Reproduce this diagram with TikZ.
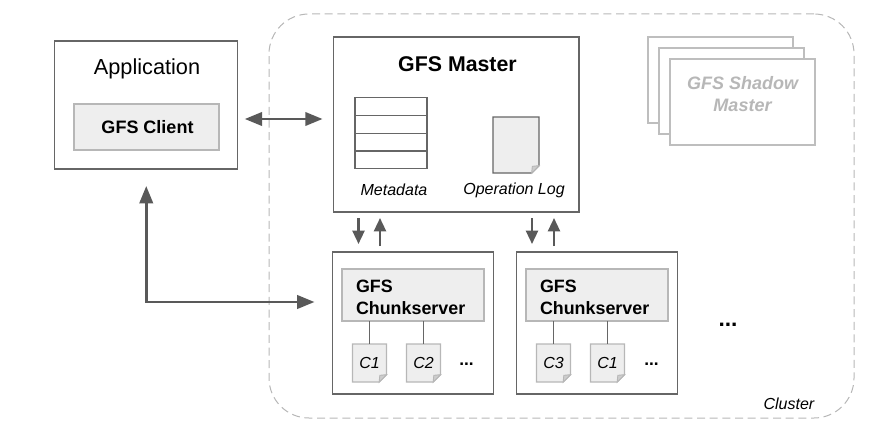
\documentclass[tikz,border=0pt]{standalone}
\usepackage{fontspec}
\setmainfont{Liberation Sans}
\usetikzlibrary{arrows.meta,positioning,backgrounds}
\definecolor{boxline}{HTML}{666666}
\definecolor{softline}{HTML}{B7B7B7}
\definecolor{softfill}{HTML}{EEEEEE}
\definecolor{flowline}{HTML}{595959}
\tikzset{
	outerbox/.style={rectangle, draw=boxline, line width=0.9pt, outer sep=0pt, inner sep=0pt},
	innerbox/.style={rectangle, draw=softline, fill=softfill, line width=0.8pt, outer sep=0pt, inner sep=0pt},
	shadowbox/.style={rectangle, draw=softline!90!white, fill=white, line width=0.9pt, outer sep=0pt, inner sep=0pt,
		minimum width=108.75pt, minimum height=64.5pt},
	serverbox/.style={outerbox, minimum width=120.75pt, minimum height=106.5pt},
	chunkbox/.style={innerbox, minimum width=106.5pt, minimum height=39pt, align=left, text width=85.5pt,
		font=\bfseries\fontsize{13.4}{17}\selectfont},
	metarow/.style={rectangle, draw=boxline, line width=0.9pt, outer sep=0pt, minimum width=54pt, minimum height=13.3pt, inner sep=0pt},
	sheetspot/.style={rectangle, inner sep=0pt, outer sep=0pt, font=\itshape\fontsize{12}{14}\selectfont},
	flow/.style={draw=flowline, line width=2.1pt, {Triangle[length=13pt,width=10pt]}-{Triangle[length=13pt,width=10pt]}},
	updown/.style={draw=flowline, line width=1.7pt, -{Triangle[length=10pt,width=9pt]}},
	stem/.style={draw=boxline, line width=0.8pt},
	caption/.style={font=\itshape\fontsize{12}{14}\selectfont}
}
% sheet with a folded corner, behind its text
\newcommand{\foldsheet}[6]{%
	\node[sheetspot, minimum width=#4*0.75pt, minimum height=#5*0.75pt] (#2) at (#3) {#6};
	\begin{scope}[on background layer]
		\draw[draw=#1, fill=softfill, line width=0.9pt] (#2.north west) -- (#2.north east)
			-- ([yshift=5.5pt]#2.south east) -- ([xshift=-5.5pt]#2.south east) -- (#2.south west) -- cycle;
		\draw[draw=softline, fill=softline!70!white, line width=0.7pt] ([yshift=5.5pt]#2.south east) -- ([shift={(-5pt,5pt)}]#2.south east)
			-- ([xshift=-5.5pt]#2.south east) -- cycle;
	\end{scope}
}
\begin{document}
\begin{tikzpicture}[x=0.75pt,y=-0.75pt]
	\useasboundingbox (0,0) rectangle (873,428);

	\node[draw=softline, dashed, dash pattern=on 6pt off 3.5pt, line width=0.75pt, rounded corners=30pt, rectangle,
		minimum width=438.75pt, minimum height=303pt, outer sep=0pt] (cluster) at (561.5,216) {};
	\node[caption, anchor=south east] (clustername) at (819,414) {Cluster};

	% application
	\node[outerbox, minimum width=137.25pt, minimum height=96pt] (app) at (146.25,105) {};
	\node[font=\fontsize{16.3}{19}\selectfont] (appname) at (147,69) {Application};
	\node[innerbox, minimum width=108.75pt, minimum height=34.5pt, font=\bfseries\fontsize{13.5}{16}\selectfont] (client) at (146.5,127) {\hspace{1.5pt}GFS Client};

	% master
	\node[outerbox, minimum width=184pt, minimum height=131.25pt] (master) at (456.25,124.5) {};
	\node[font=\bfseries\fontsize{16}{19}\selectfont] (mastername) at (457.5,64) {GFS Master};
	\node[metarow] (rowa) at (391,106.75) {};
	\node[metarow, below=0pt of rowa] (rowb) {};
	\node[metarow, below=0pt of rowb] (rowc) {};
	\node[metarow, below=0pt of rowc] (rowd) {};
	\node[caption] (metaname) at (394,190) {Metadata};
	\foldsheet{boxline}{oplog}{516,145}{46}{56}{}
	\node[caption] (logname) at (514,190) {Operation Log};

	% shadow masters
	\node[shadowbox] (shadowa) at (720.5,80) {};
	\node[shadowbox] (shadowb) at (731.5,91) {};
	\node[shadowbox, text=softline, align=center, font=\bfseries\itshape\fontsize{13.5}{16.5}\selectfont] (shadowc) at (742.5,102)
		{GFS Shadow\\Master\\[-4pt]\mbox{}};

	% chunkservers
	\node[serverbox] (chunka) at (413,323) {};
	\node[chunkbox] (servera) at (413,295) {\rule{0pt}{13pt}GFS\\Chunkserver};
	\foldsheet{softline}{cone}{369.5,363}{34}{38}{C1}
	\foldsheet{softline}{ctwo}{423.5,363}{34}{38}{C2}
	\node[font=\bfseries\fontsize{13}{15}\selectfont] (morea) at (466.5,364.5) {...};
	\draw[stem] (servera.south -| cone) -- (cone);
	\draw[stem] (servera.south -| ctwo) -- (ctwo);

	\node[serverbox] (chunkb) at (597,323) {};
	\node[chunkbox] (serverb) at (597,295) {\rule{0pt}{13pt}GFS\\Chunkserver};
	\foldsheet{softline}{cthree}{553.5,363}{34}{38}{C3}
	\foldsheet{softline}{cfour}{607.5,363}{34}{38}{C1}
	\node[font=\bfseries\fontsize{13}{15}\selectfont] (moreb) at (651.5,364.5) {...};
	\draw[stem] (serverb.south -| cthree) -- (cthree);
	\draw[stem] (serverb.south -| cfour) -- (cfour);

	\node[font=\bfseries\fontsize{17}{20}\selectfont] (morec) at (728,325) {...};

	% connectors
	\draw[flow] ([shift={(7,14)}]app.east) -- ([shift={(-11,-5.5)}]master.west);
	\draw[flow] ([shift={(0,17)}]app.south) |- ([shift={(-18,-21)}]chunka.west);
	\draw[updown] ([shift={(-54.5,-34)}]chunka.north) -- ([shift={(-54.5,-8)}]chunka.north);
	\draw[updown] ([shift={(-33,-6)}]chunka.north) -- ([shift={(-33,-34)}]chunka.north);
	\draw[updown] ([shift={(-65,-34)}]chunkb.north) -- ([shift={(-65,-8)}]chunkb.north);
	\draw[updown] ([shift={(-43,-6)}]chunkb.north) -- ([shift={(-43,-34)}]chunkb.north);
\end{tikzpicture}
\end{document}
